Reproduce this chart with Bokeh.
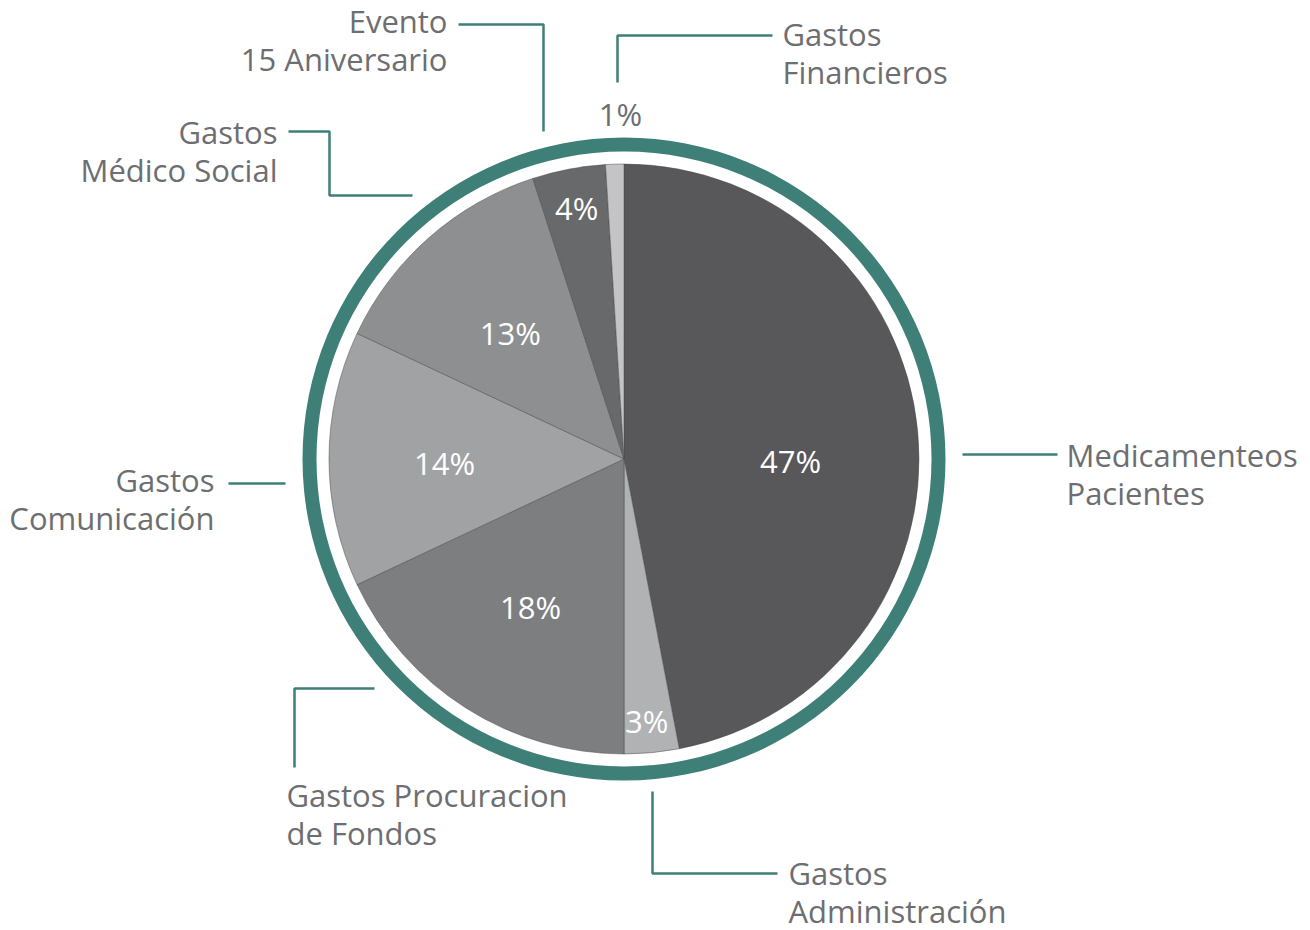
import math
from bokeh.plotting import figure
from bokeh.models import Range1d
from bokeh.core.properties import value
from bokeh.embed import file_html
from bokeh.resources import INLINE

# ---- data ----
categories = ["Medicamenteos Pacientes", "Gastos Administración", "Gastos Procuracion de Fondos",
              "Gastos Comunicación", "Gastos Médico Social", "Evento 15 Aniversario",
              "Gastos Financieros"]
values = [47, 3, 18, 14, 13, 4, 1]
pct_labels = ["47%", "3%", "18%", "14%", "13%", "4%", "1%"]
colors = ["#58585a", "#b1b2b4", "#7d7e80", "#a1a2a4", "#8e8f91", "#68696b", "#c4c4c6"]

# category label lines (layout)
label_lines = [
    ["Medicamenteos", "Pacientes"],
    ["Gastos", "Administración"],
    ["Gastos Procuracion", "de Fondos"],
    ["Gastos", "Comunicación"],
    ["Gastos", "Médico Social"],
    ["Evento", "15 Aniversario"],
    ["Gastos", "Financieros"],
]
# (x, first-line visual centre y in page px, align)
label_pos = [
    (1066, 456, "left"),
    (788, 874, "left"),
    (286, 796, "left"),
    (214, 481, "right"),
    (277, 133, "right"),
    (447, 22, "right"),
    (782, 35, "left"),
]
LINE_GAP = 38
# percent label layout: radius, angle shift (deg)
pct_layout = [(166.6, 6.9), (264.5, 0.5), (177, -0.5), (179.6, -1.8), (168.5, -1.0), (253, 0.0), (343.5, 1.2)]
pct_colors = ["white"] * 6 + ["#6d6e71"]
TXT_DY = 2   # compensation: rendered glyph centre sits ~2px below the anchor

W, H = 1310, 930
def Y(py):
    return H - py

CX, CY = 623.5, Y(458.5)
R = 295
TEAL = "#3e8078"
TXT = "#6d6e71"
FONT = "Open Sans"
FS = "31px"

p = figure(width=W, height=H, output_backend="svg", toolbar_location=None,
           x_range=Range1d(0, W), y_range=Range1d(0, H),
           min_border=0, outline_line_color=None)
p.axis.visible = False
p.grid.visible = False
p.background_fill_color = "white"

# wedges
total = sum(values)
cum = 0.0
starts, ends, mids = [], [], []
for v in values:
    a0 = cum / total * 2 * math.pi
    cum += v
    a1 = cum / total * 2 * math.pi
    starts.append(math.pi / 2 - a1)
    ends.append(math.pi / 2 - a0)
    mids.append((a0 + a1) / 2)

p.wedge(x=[CX] * len(values), y=[CY] * len(values), radius=R,
        start_angle=starts, end_angle=ends, fill_color=colors,
        line_color="#4a4b4d", line_alpha=0.5, line_width=1)

# teal ring
p.annulus(x=[CX], y=[CY], inner_radius=307.5, outer_radius=321.5,
          fill_color=TEAL, line_color=None)

# percent labels
px, py = [], []
for m, (r, sh) in zip(mids, pct_layout):
    a = m + math.radians(sh)
    px.append(CX + r * math.sin(a))
    py.append(CY + r * math.cos(a) + TXT_DY)
p.text(x=px, y=py, text=pct_labels, text_color=pct_colors, text_font=value(FONT),
       text_font_size=FS, text_align="center", text_baseline="middle")

# category labels
for lines, (lx, ly, al) in zip(label_lines, label_pos):
    p.text(x=[lx] * len(lines), y=[Y(ly + LINE_GAP * i) + TXT_DY for i in range(len(lines))],
           text=lines, text_color=TXT, text_font=value(FONT), text_font_size=FS,
           text_align=al, text_baseline="middle")

# leader lines (page px)
leaders = [
    ([962, 1057], [454, 454]),
    ([652, 652, 777], [791, 873, 873]),
    ([374, 294, 294], [688, 688, 767]),
    ([228, 285], [483, 483]),
    ([288, 329, 329, 412], [131, 131, 195, 195]),
    ([458, 543, 543], [24, 24, 131]),
    ([617, 617, 772], [82, 35, 35]),
]
p.multi_line(xs=[l[0] for l in leaders], ys=[[Y(v) for v in l[1]] for l in leaders],
             line_color=TEAL, line_width=2.5)

open("out.html", "w").write(file_html(p, INLINE))
